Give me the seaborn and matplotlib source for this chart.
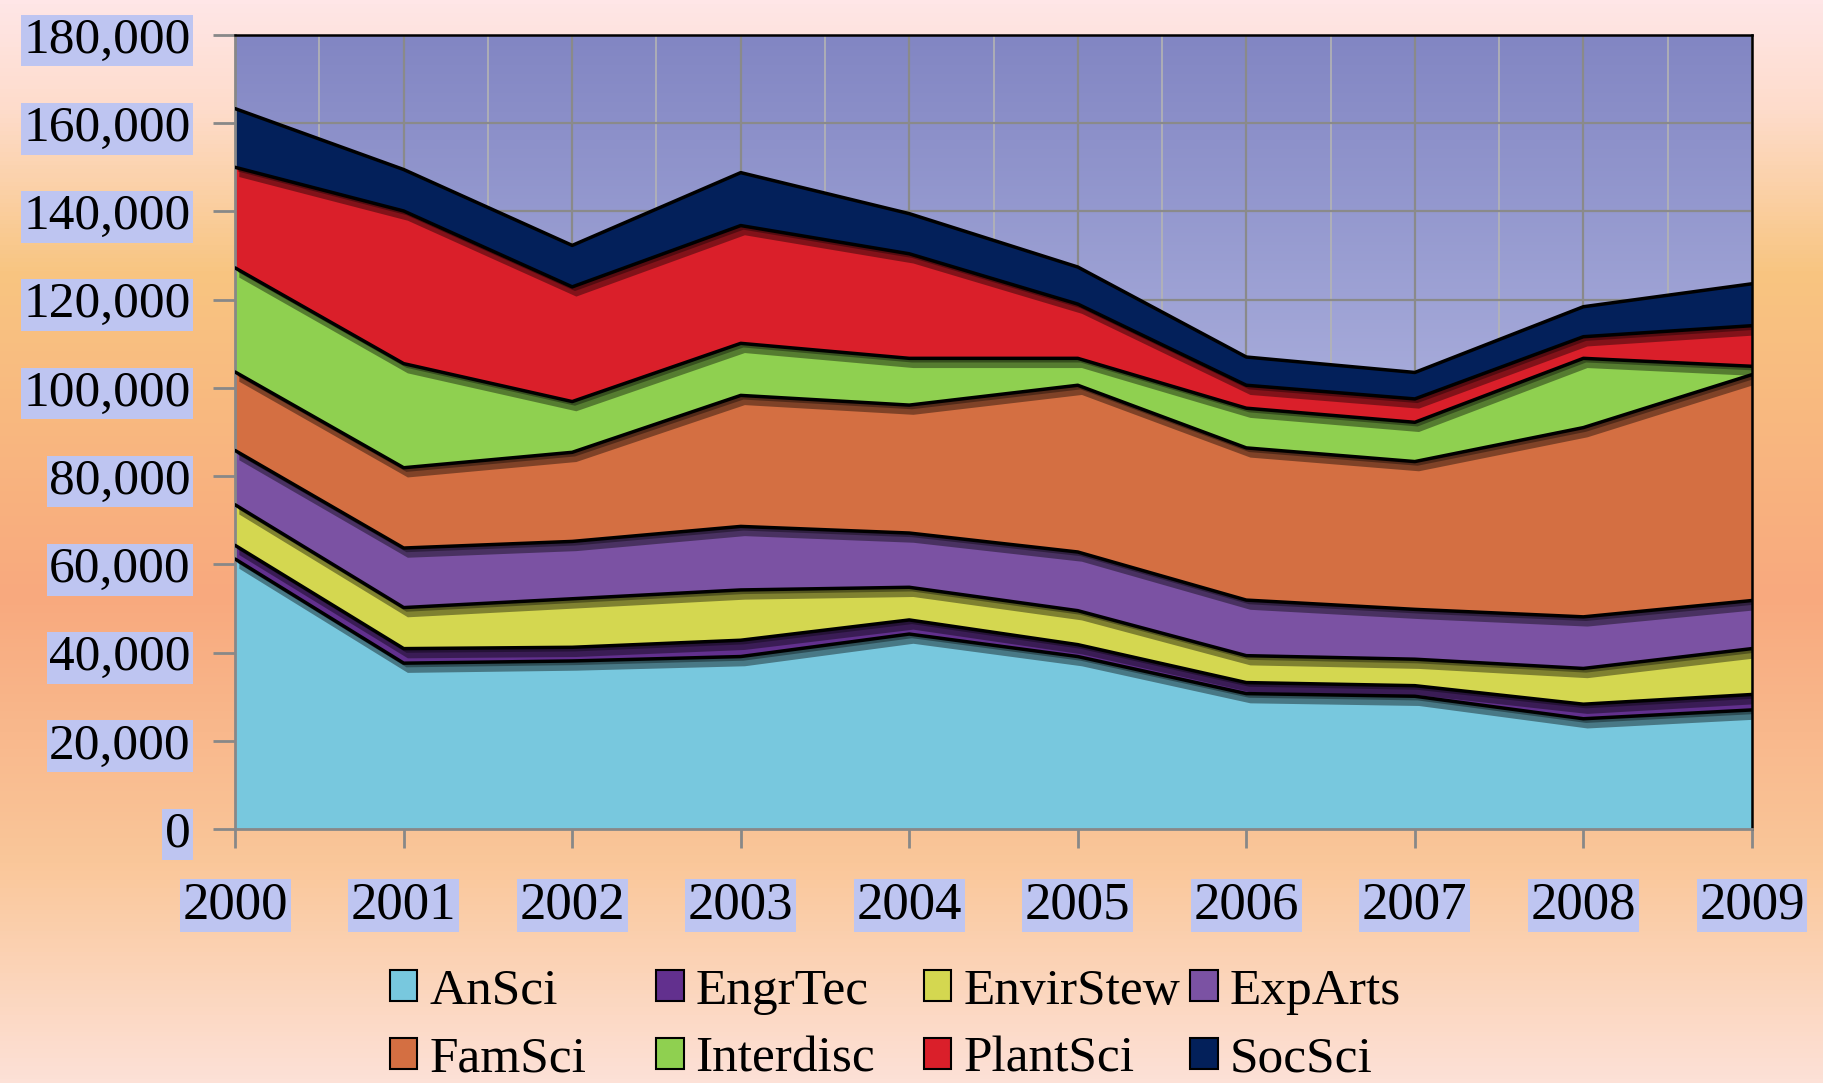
import numpy as np
import pandas as pd
import seaborn as sns
import matplotlib.pyplot as plt
import matplotlib.patheffects as pe
from matplotlib.colors import LinearSegmentedColormap
from matplotlib.patches import Patch

# enrollment by program area
years = [2000, 2001, 2002, 2003, 2004, 2005, 2006, 2007, 2008, 2009]
ansci = [61200, 37600, 38100, 39100, 44200, 39100, 30700, 30100, 25000, 27000]
engrtec = [3100, 3300, 3100, 3700, 3200, 2700, 2500, 2400, 3300, 3500]
envirstew = [9200, 9300, 11000, 11400, 7400, 7700, 6100, 6000, 8100, 10400]
exparts = [12300, 13500, 13000, 14400, 12300, 13300, 12600, 11300, 11700, 10900]
famsci = [17800, 18200, 20200, 29700, 29000, 37800, 34500, 33500, 42900, 51200]
interdisc = [23600, 23600, 11500, 11800, 10600, 6100, 9000, 8900, 15700, 1900]
plantsci = [22800, 34600, 26000, 26700, 23700, 12300, 5200, 5300, 4900, 9200]
socsci = [13300, 9400, 9400, 12000, 9100, 8400, 6400, 6000, 6800, 9500]

names = ['AnSci', 'EngrTec', 'EnvirStew', 'ExpArts', 'FamSci', 'Interdisc', 'PlantSci', 'SocSci']
colors = ['#78C8DE', '#62308E', '#D4D750', '#7B52A3', '#D46F42', '#8FD050', '#DA1F2A', '#03205A']
y_ticks = [0, 20000, 40000, 60000, 80000, 100000, 120000, 140000, 160000, 180000]

series = [ansci, engrtec, envirstew, exparts, famsci, interdisc, plantsci, socsci]

df = pd.DataFrame({n: v for n, v in zip(names, series)}, index=years)
cum = df.cumsum(axis=1)
tops = cum.reset_index().melt(id_vars='index', var_name='Series', value_name='Top')
tops = tops.rename(columns={'index': 'Year'})

sns.set_theme(style='ticks')
plt.rcParams['font.family'] = ['Liberation Serif', 'DejaVu Serif']
plt.rcParams['text.color'] = 'black'
plt.rcParams['xtick.labelcolor'] = 'black'
plt.rcParams['ytick.labelcolor'] = 'black'

fig = plt.figure(figsize=(18.23, 10.83), dpi=100)

# warm page gradient behind everything
bg = fig.add_axes([0, 0, 1, 1], zorder=-10)
bg_cmap = LinearSegmentedColormap.from_list('page', [
    (0.0, '#FFE6E7'), (0.1, '#FEDCCB'), (0.25, '#F8C581'),
    (0.55, '#F8A97E'), (0.8, '#FAC79A'), (1.0, '#FDE1D7')])
bg.imshow(np.linspace(0, 1, 256).reshape(-1, 1), cmap=bg_cmap, aspect='auto', extent=[0, 1, 0, 1])
bg.axis('off')

ax = fig.add_axes([0.129, 0.2345, 0.832, 0.7332])
plot_cmap = LinearSegmentedColormap.from_list('plotbg', ['#8286C3', '#D5DAF8'])
ax.imshow(np.linspace(0, 1, 256).reshape(-1, 1), cmap=plot_cmap, aspect='auto',
          extent=[2000, 2009, 0, 180000], zorder=0)

polys = ax.stackplot(years, *series, colors=colors, linewidth=0, zorder=2)
for p in polys:
    p.set_path_effects([pe.SimplePatchShadow(offset=(3, -7), shadow_rgbFace='black', alpha=0.4),
                        pe.SimplePatchShadow(offset=(2, -3), shadow_rgbFace='black', alpha=0.35),
                        pe.Normal()])

sns.lineplot(data=tops, x='Year', y='Top', units='Series', estimator=None,
             color='black', lw=2.5, ax=ax, zorder=3)

ax.set_xlim(2000, 2009)
ax.set_ylim(0, 180000)
ax.set_xticks(years)
ax.set_xticks([y + 0.5 for y in years[:-1]], minor=True)
ax.set_yticks(y_ticks)
ax.grid(which='major', color='#8a8a8a', lw=1.6, zorder=1)
ax.grid(which='minor', axis='x', color='#b4b4b4', lw=1.2, zorder=1)
ax.set_axisbelow(True)

box = dict(facecolor='#BEC5F1', edgecolor='none', pad=2)
ax.set_yticklabels([format(v, ',') for v in y_ticks], fontsize=37, bbox=box)
ax.set_xticklabels([str(y) for y in years], fontsize=38, bbox=box)
ax.set_xlabel('')
ax.set_ylabel('')
ax.tick_params(axis='y', which='major', direction='out', length=16, width=2, color='#888888', pad=16)
ax.tick_params(axis='x', which='major', direction='out', length=14, width=2, color='#888888', pad=24)
ax.tick_params(which='minor', length=0)

for s in ['left', 'bottom']:
    ax.spines[s].set_color('#888888')
    ax.spines[s].set_linewidth(2)
for s in ['top', 'right']:
    ax.spines[s].set_color('black')
    ax.spines[s].set_linewidth(1.8)

# four one-column legends so the columns sit on an even pitch
handles = [Patch(facecolor=c, edgecolor='black', lw=1.5) for c in colors]
col_x = [0.214, 0.360, 0.507, 0.653]
for i, x in enumerate(col_x):
    fig.legend(handles=[handles[i], handles[i + 4]], labels=[names[i], names[i + 4]],
               loc='upper left', bbox_to_anchor=(x, 0.106), frameon=False, fontsize=37,
               handlelength=0.53, handleheight=0.55, handletextpad=0.23,
               labelspacing=0.42, borderpad=0, borderaxespad=0)

fig.savefig('out.png', dpi=100)
